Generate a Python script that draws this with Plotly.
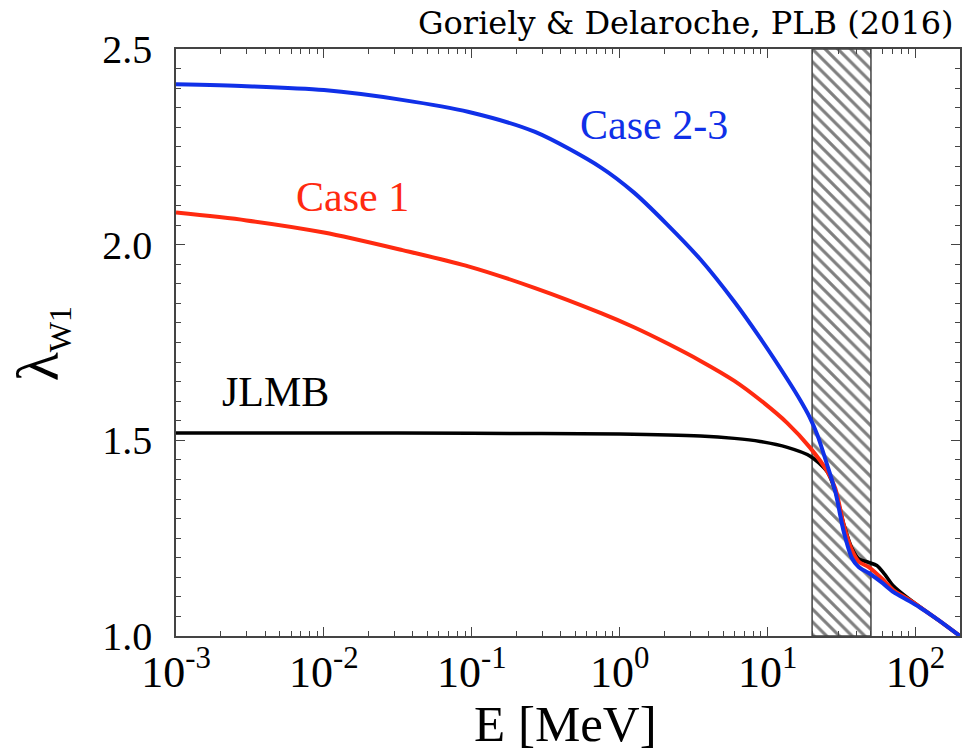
import plotly.graph_objects as go
import numpy as np

# ---- data ----
E_case23 = [0.001, 0.003, 0.01, 0.0337, 0.0956, 0.268, 0.748, 1.25, 2.09, 3.52, 5.96, 8.92, 13.6, 16.6, 19.2, 21.7, 25.3, 28.7, 32.8, 37.1, 41.3, 48.3, 60, 71, 90, 106, 134, 160, 200]
L_case23 = [2.410, 2.405, 2.395, 2.370, 2.339, 2.288, 2.197, 2.133, 2.052, 1.962, 1.854, 1.761, 1.656, 1.603, 1.560, 1.514, 1.437, 1.369, 1.265, 1.200, 1.176, 1.161, 1.135, 1.112, 1.090, 1.074, 1.048, 1.027, 1.000]

E_case1 = [0.001, 0.003, 0.01, 0.034, 0.096, 0.268, 0.748, 1.25, 2.09, 3.52, 5.96, 8.92, 13.6, 19.3, 25.3, 28.7, 32.8, 37.1, 41.3, 48.3, 60, 71, 91, 134, 160, 200]
L_case1 = [2.082, 2.062, 2.031, 1.986, 1.944, 1.889, 1.825, 1.789, 1.748, 1.703, 1.652, 1.603, 1.544, 1.482, 1.421, 1.377, 1.282, 1.220, 1.190, 1.176, 1.145, 1.117, 1.092, 1.048, 1.027, 1.000]

E_jlmb = [0.001, 0.01, 0.1, 1, 3.52, 5.96, 8.92, 13.6, 19.3, 25.3, 28.7, 32.8, 37.1, 41.3, 48.3, 54.7, 61.8, 71, 91, 134, 160, 200]
L_jlmb = [1.519, 1.519, 1.518, 1.516, 1.511, 1.505, 1.497, 1.482, 1.460, 1.420, 1.370, 1.285, 1.225, 1.198, 1.188, 1.180, 1.158, 1.128, 1.094, 1.048, 1.027, 1.000]

band_E = [20, 50]
y_range = [1.0, 2.5]
x_range = [0.001, 200]

x_major = [1e-3, 1e-2, 1e-1, 1e0, 1e1, 1e2]
x_major_text = ["10<sup>-3</sup>", "10<sup>-2</sup>", "10<sup>-1</sup>", "10<sup>0</sup>", "10<sup>1</sup>", "10<sup>2</sup>"]
y_major = [1.0, 1.5, 2.0, 2.5]
y_major_text = ["1.0", "1.5", "2.0", "2.5"]

SERIF = "Liberation Serif"

x_minor = [m * 10.0 ** d for d in range(-3, 3) for m in range(2, 10) if m * 10.0 ** d <= 200]
y_minor = [round(1.0 + 0.05 * i, 2) for i in range(31)]

fig = go.Figure()

# hatched band
fig.add_trace(go.Scatter(
    x=[band_E[0], band_E[1], band_E[1], band_E[0], band_E[0]],
    y=[y_range[0], y_range[0], y_range[1], y_range[1], y_range[0]],
    mode="lines", fill="toself",
    line=dict(color="#444444", width=1.5),
    fillcolor="white",
    fillpattern=dict(shape="\\", fgcolor="black", bgcolor="white", size=9, solidity=0.35),
    hoverinfo="skip", showlegend=False,
))

fig.add_trace(go.Scatter(x=E_jlmb, y=L_jlmb, mode="lines", line=dict(color="black", width=3.5, shape="spline", smoothing=0.8), showlegend=False))
fig.add_trace(go.Scatter(x=E_case1, y=L_case1, mode="lines", line=dict(color="#ff2a10", width=4, shape="spline", smoothing=0.8), showlegend=False))
fig.add_trace(go.Scatter(x=E_case23, y=L_case23, mode="lines", line=dict(color="#1030e8", width=4, shape="spline", smoothing=0.8), showlegend=False))

axis_common = dict(
    showgrid=False, zeroline=False, showline=True, linecolor="#444444", linewidth=1.5,
    ticks="inside", ticklen=9, tickwidth=1.3, tickcolor="#444444", mirror="ticks",
)

fig.update_xaxes(
    type="log", range=[np.log10(x_range[0]), np.log10(x_range[1])],
    tickmode="array", tickvals=x_major, ticktext=x_major_text,
    tickfont=dict(family=SERIF, size=44, color="black"),
    ticklabelstandoff=-4,
    minor=dict(tickmode="array", tickvals=x_minor, ticks="inside", ticklen=5, tickwidth=1.2, tickcolor="#444444"),
    **axis_common,
)
fig.update_yaxes(
    range=y_range,
    tickmode="array", tickvals=y_major, ticktext=y_major_text,
    tickfont=dict(family=SERIF, size=40, color="black"),
    ticklabelstandoff=14,
    minor=dict(tickmode="array", tickvals=y_minor, ticks="inside", ticklen=5, tickwidth=1.2, tickcolor="#444444"),
    **axis_common,
)

L, R, T, B = 176, 2, 49, 119
W, H = 964, 755
pw, ph = W - L - R, H - T - B

def px(X):
    return (X - L) / pw

def py(Y):
    return 1 - (Y - T) / ph

annos = [
    dict(text="Case 2-3", x=px(655), y=py(125), font=dict(family=SERIF, size=42, color="#1030e8")),
    dict(text="Case 1", x=px(353), y=py(197), font=dict(family=SERIF, size=42, color="#ff2a10")),
    dict(text="JLMB", x=px(276), y=py(392), font=dict(family=SERIF, size=42, color="black")),
    dict(text="E [MeV]", x=px(566), y=py(724), font=dict(family=SERIF, size=51, color="black")),
    dict(text="λ<sub><span style='font-size:32px'>W1</span></sub>", x=px(42), y=py(344), textangle=-90,
         font=dict(family=SERIF, size=60, color="black")),
]
for a in annos:
    fig.add_annotation(xref="paper", yref="paper", showarrow=False, xanchor="center", yanchor="middle", **a)

fig.add_annotation(text="Goriely &amp; Delaroche, PLB (2016)", xref="paper", yref="paper",
                   x=px(958), y=py(23), xanchor="right", yanchor="middle", showarrow=False,
                   font=dict(family="DejaVu Serif", size=32, color="black"))

fig.update_layout(
    width=W, height=H, margin=dict(l=L, r=R, t=T, b=B),
    paper_bgcolor="white", plot_bgcolor="white",
)

fig.write_html("out.html")
